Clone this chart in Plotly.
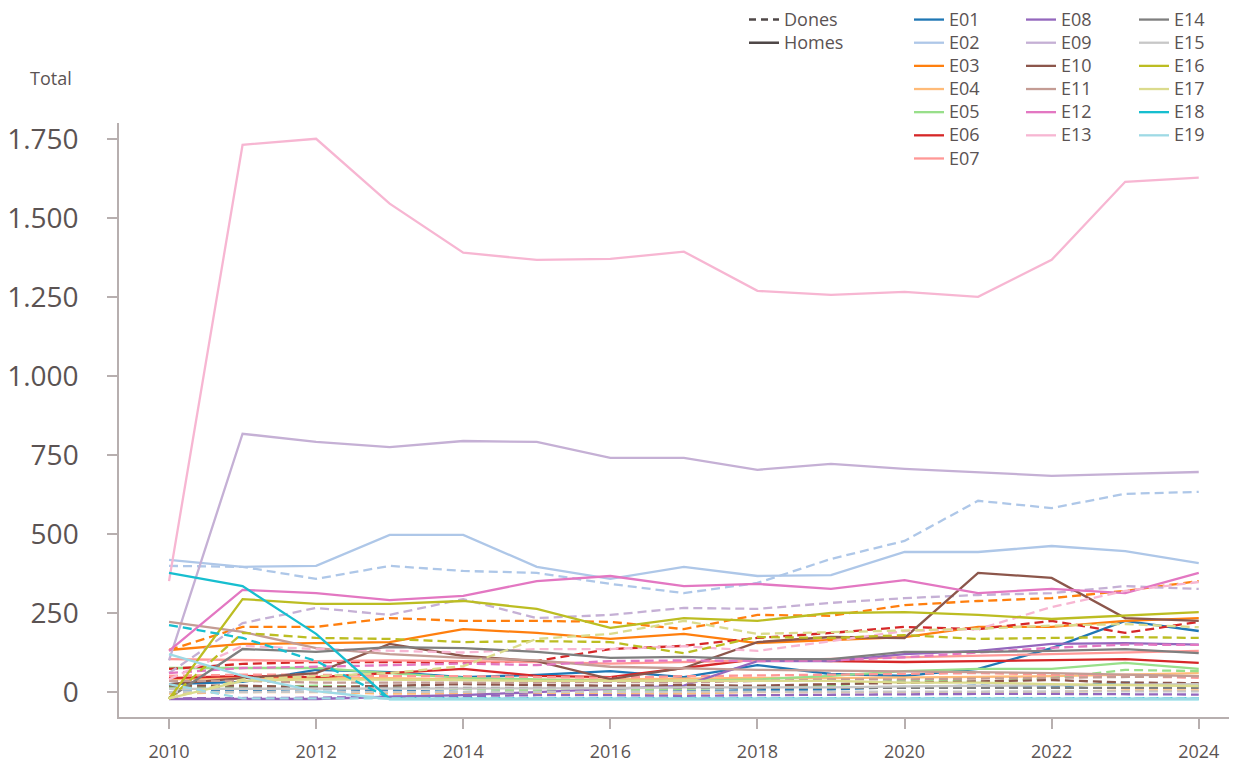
import plotly.graph_objects as go

years = list(range(2010, 2025))

names = ["E01", "E02", "E03", "E04", "E05", "E06", "E07", "E08", "E09", "E10",
         "E11", "E12", "E13", "E14", "E15", "E16", "E17", "E18", "E19"]
colors = ["#1f77b4", "#aec7e8", "#ff7f0e", "#ffbb78", "#98df8a", "#d62728", "#ff9896",
          "#9467bd", "#c5b0d5", "#8c564b", "#c49c94", "#e377c2", "#f7b6d2", "#7f7f7f",
          "#c7c7c7", "#bcbd22", "#dbdb8d", "#17becf", "#9edae5"]

e01_homes = [25, 32, 70, 63, 47, 54, 66, 47, 85, 57, 51, 73, 139, 225, 193]
e01_dones = [0, 5, 10, 5, 0, 2, 5, 3, 5, 8, 16, 20, 16, 30, 20]
e02_homes = [418, 396, 399, 497, 497, 396, 358, 396, 367, 370, 443, 443, 462, 446, 408]
e02_dones = [399, 396, 358, 399, 383, 377, 342, 313, 345, 421, 478, 605, 582, 627, 633]
e03_homes = [133, 152, 155, 158, 199, 187, 168, 184, 155, 165, 174, 206, 206, 225, 234]
e03_dones = [133, 206, 206, 234, 225, 225, 222, 199, 244, 241, 275, 288, 297, 320, 351]
e04_homes = [40, 45, 44, 44, 40, 38, 40, 42, 45, 44, 45, 48, 50, 55, 60]
e04_dones = [-5, 0, 0, -5, -5, -5, -5, -5, 0, 0, 0, 0, 0, 5, 5]
e05_homes = [76, 76, 76, 60, 45, 40, 35, 35, 40, 51, 66, 73, 73, 92, 73]
e05_dones = [16, 16, 20, 15, 10, 5, 5, 10, 15, 20, 38, 32, 44, 70, 66]
e06_homes = [44, 51, 47, 60, 73, 51, 47, 76, 104, 98, 95, 98, 101, 104, 92]
e06_dones = [73, 89, 95, 95, 92, 98, 136, 146, 171, 187, 206, 199, 225, 187, 222]
e07_homes = [104, 100, 98, 100, 98, 95, 90, 95, 100, 105, 110, 115, 120, 125, 130]
e07_dones = [51, 55, 55, 50, 50, 48, 45, 50, 52, 55, 58, 60, 55, 50, 45]
e08_homes = [-22, -22, -22, -15, -10, 0, 10, 20, 98, 98, 120, 130, 152, 155, 150]
e08_dones = [-20, -20, -18, -15, -12, -10, -10, -12, -10, -8, -8, -6, -6, -8, -8]
e09_homes = [100, 817, 791, 775, 794, 791, 741, 741, 703, 722, 706, 696, 684, 690, 696]
e09_dones = [60, 218, 266, 244, 294, 234, 244, 266, 263, 282, 297, 307, 313, 335, 326]
e10_homes = [25, 44, 60, 152, 114, 98, 41, 76, 158, 174, 171, 377, 361, 234, 225]
e10_dones = [20, 20, 15, 20, 25, 22, 20, 22, 20, 25, 30, 35, 38, 30, 28]
e11_homes = [222, 190, 139, 120, 108, 100, 80, 75, 70, 68, 66, 64, 60, 55, 50]
e11_dones = [35, 35, 30, 30, 28, 30, 32, 30, 35, 40, 40, 42, 45, 48, 50]
e12_homes = [130, 323, 313, 291, 304, 351, 367, 335, 342, 326, 354, 313, 326, 313, 377]
e12_dones = [60, 76, 80, 85, 90, 85, 98, 100, 98, 100, 110, 125, 140, 150, 149]
e13_homes = [351, 1731, 1750, 1545, 1390, 1367, 1370, 1393, 1269, 1256, 1266, 1250, 1367, 1614, 1627]
e13_dones = [40, 146, 136, 130, 125, 136, 136, 145, 130, 161, 193, 199, 269, 320, 348]
e14_homes = [-19, 136, 127, 142, 139, 127, 108, 111, 104, 104, 127, 127, 130, 136, 123]
e14_dones = [10, 12, 12, 13, 13, 15, 15, 14, 15, 15, 14, 14, 13, 13, 13]
e15_homes = [10, 10, 10, 12, 10, 10, 12, 15, 15, 15, 18, 20, 22, 22, 25]
e15_dones = [0, 0, 0, 0, 0, 2, 2, 2, 2, 2, 2, 2, 2, 2, 2]
e16_homes = [-22, 294, 279, 279, 288, 263, 203, 234, 225, 250, 253, 244, 231, 241, 253]
e16_dones = [-22, 187, 171, 168, 158, 161, 158, 123, 174, 171, 180, 168, 171, 174, 171]
e17_homes = [-20, 35, 40, 40, 38, 35, 35, 35, 35, 35, 30, 30, 25, 22, 19]
e17_dones = [-20, 40, 50, 60, 82, 168, 184, 225, 184, 190, 195, 200, 210, 215, 205]
e18_homes = [377, 335, 184, -22, -22, -22, -22, -22, -22, -22, -22, -22, -22, -22, -22]
e18_dones = [212, 171, 98, -20, -20, -20, -20, -20, -20, -20, -20, -20, -20, -20, -20]
e19_homes = [120, 51, 3, -22, -22, -22, -22, -22, -22, -22, -22, -22, -22, -22, -22]
e19_dones = [25, -20, -20, -20, -20, -20, -20, -20, -20, -20, -20, -20, -20, -20, -20]

homes = [e01_homes, e02_homes, e03_homes, e04_homes, e05_homes, e06_homes, e07_homes,
         e08_homes, e09_homes, e10_homes, e11_homes, e12_homes, e13_homes, e14_homes,
         e15_homes, e16_homes, e17_homes, e18_homes, e19_homes]
dones = [e01_dones, e02_dones, e03_dones, e04_dones, e05_dones, e06_dones, e07_dones,
         e08_dones, e09_dones, e10_dones, e11_dones, e12_dones, e13_dones, e14_dones,
         e15_dones, e16_dones, e17_dones, e18_dones, e19_dones]

y_ticks = [0, 250, 500, 750, 1000, 1250, 1500, 1750]
y_ticktext = ["0", "250", "500", "750", "1.000", "1.250", "1.500", "1.750"]
x_ticks = [2010, 2012, 2014, 2016, 2018, 2020, 2022, 2024]

TEXT = "#5b5353"
AXIS = "#b7afaf"
FONT = "Open Sans"
DASH = "9px,5px"
LEG_TXT = "<span style='font-size:18px'>{}</span>"

fig = go.Figure()

# Style keys (Dones / Homes)
fig.add_trace(go.Scatter(x=[None], y=[None], mode="lines", name=LEG_TXT.format("Dones"),
                         line=dict(color="#4f4848", width=2.5, dash="7px,5px"),
                         legend="legend"))
fig.add_trace(go.Scatter(x=[None], y=[None], mode="lines", name=LEG_TXT.format("Homes"),
                         line=dict(color="#4f4848", width=2.5),
                         legend="legend"))

for i, (n, c) in enumerate(zip(names, colors)):
    lg = "legend2" if i < 7 else ("legend3" if i < 13 else "legend4")
    fig.add_trace(go.Scatter(x=years, y=dones[i], mode="lines", name=n,
                             line=dict(color=c, width=2.3, dash=DASH),
                             legendgroup=n, showlegend=False, legend=lg))
    fig.add_trace(go.Scatter(x=years, y=homes[i], mode="lines", name=LEG_TXT.format(n),
                             line=dict(color=c, width=2.3),
                             legendgroup=n, showlegend=True, legend=lg))

legend_common = dict(font=dict(family=FONT, size=15.5, color=TEXT),
                     bgcolor="rgba(0,0,0,0)", xanchor="left", yanchor="top",
                     tracegroupgap=0, itemclick=False, itemdoubleclick=False)

# figure sits 8px inside the page (body margin); coordinates below are figure px
L, T, B = 111, 115, 709
PW, PH = 1118, B - T


def px2x(fx):
    return (fx - L) / PW


def px2y(fy):
    return (B - fy) / PH


LEG_TOP = -5

fig.update_layout(
    width=1229, height=757,
    margin=dict(l=L, r=0, t=T, b=757 - B, autoexpand=False),
    paper_bgcolor="white", plot_bgcolor="white",
    font=dict(family=FONT, color=TEXT),
    legend=dict(x=px2x(736), y=px2y(LEG_TOP), **legend_common),
    legend2=dict(x=px2x(901), y=px2y(LEG_TOP), **legend_common),
    legend3=dict(x=px2x(1013), y=px2y(LEG_TOP), **legend_common),
    legend4=dict(x=px2x(1126), y=px2y(LEG_TOP), **legend_common),
    xaxis=dict(range=[2009.32, 2024.52], tickvals=x_ticks, showgrid=False, zeroline=False,
               showline=True, linecolor=AXIS, linewidth=1.5, ticks="outside", ticklen=10,
               tickcolor=AXIS, tickwidth=1.5, ticklabelstandoff=8,
               tickfont=dict(family=FONT, size=18, color=TEXT)),
    yaxis=dict(range=[-79, 1800], tickvals=y_ticks, ticktext=y_ticktext, showgrid=False,
               zeroline=False, showline=True, linecolor=AXIS, linewidth=1.5,
               ticks="outside", ticklen=10, tickcolor=AXIS, tickwidth=1.5,
               ticklabelstandoff=23,
               tickfont=dict(family=FONT, size=28, color=TEXT)),
    annotations=[dict(text="Total", xref="paper", yref="paper", x=px2x(20), y=px2y(70),
                      xanchor="left", yanchor="middle", showarrow=False,
                      font=dict(family=FONT, size=18, color=TEXT))],
)

fig.write_html("out.html")
